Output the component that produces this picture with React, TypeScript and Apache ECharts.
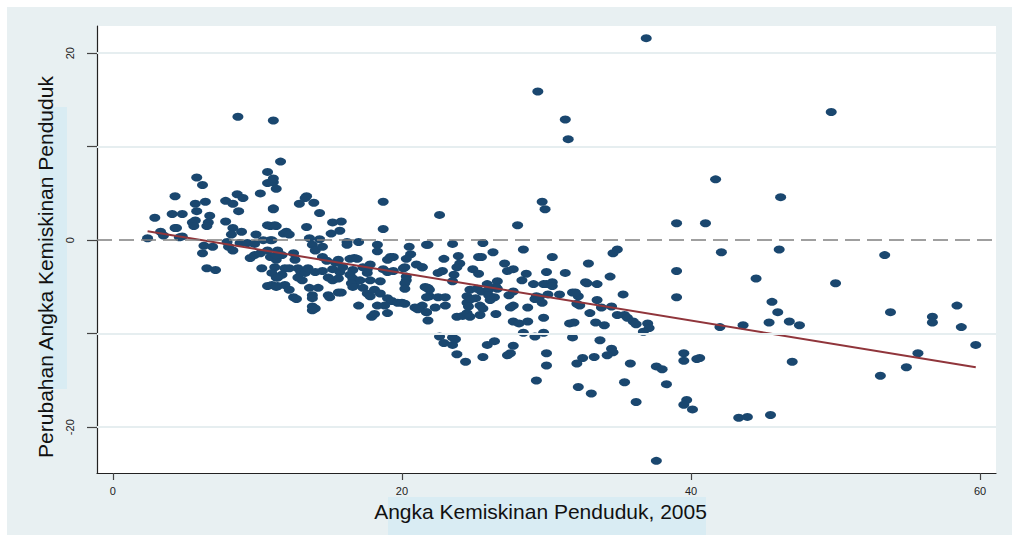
import React, { useEffect, useRef } from "react";
import * as echarts from "echarts";

// Poverty rate 2005 (x) and change in poverty rate (y)
const povertyRate2005: number[] = [
  36.9, 29.4, 31.3, 31.5, 49.7, 41.7, 8.65, 11.1, 11.6, 5.8,
  46.2, 41.0, 42.1, 46.1, 44.5, 50.0, 53.4, 45.6, 46.0, 46.8, 47.5, 42.0, 43.6, 45.4, 53.8, 56.7, 56.7, 58.4, 58.7, 59.7, 55.7, 54.9, 53.1, 47.0, 40.6, 43.3, 43.9, 45.5, 37.6, 39.0,
  31.3, 32.9, 34.6, 34.9, 32.7, 32.8, 33.5, 34.4, 39.0, 39.0, 30.9, 31.8, 32.2, 32.3, 33.5, 33.8, 34.5, 33.0, 35.3, 34.9, 35.4, 35.6, 36.0, 36.2, 37.0, 37.1, 36.7, 31.6, 31.9, 33.4, 34.0, 31.8, 33.7, 34.5, 34.6, 34.2, 32.5, 32.1, 33.3, 35.8, 37.6, 38.0, 39.5, 39.5, 40.4, 32.2, 33.1, 35.4, 38.3, 36.2, 39.7, 39.5, 40.1,
  22.6, 29.7, 29.9, 28.0, 21.8, 23.5, 25.6, 26.3, 28.4, 30.4, 23.9, 24.0, 23.8, 22.9, 21.4, 22.5, 22.8, 23.6, 25.3, 25.5, 24.9, 25.3, 27.1, 27.3, 27.7, 28.6, 28.3, 30.0, 29.1, 29.8, 30.0, 30.4, 30.4, 26.6, 25.9, 26.5, 21.6, 21.8, 21.9, 23.5, 24.7, 25.2, 25.5, 26.0, 26.6, 27.7, 32.0, 21.9, 22.5, 23.0, 24.5, 25.1, 26.0, 26.4, 27.4, 29.3, 29.2, 29.5, 30.1, 32.1, 21.4, 22.3, 23.0, 24.5, 24.6, 24.8, 25.4, 25.6, 26.1, 27.7, 27.5, 28.7, 29.7, 21.7, 23.8, 24.2, 24.5, 24.7, 25.4, 26.5, 27.7, 28.1, 28.7, 29.8, 21.8, 28.4, 29.2, 29.8, 22.6, 22.9, 23.5, 23.5, 23.7, 25.9, 26.4, 27.7, 27.5, 27.3, 30.0, 23.8, 25.6, 24.4, 30.0, 29.3,
  11.1, 11.3, 11.1, 13.4, 13.3, 12.9, 13.9, 14.3, 18.7, 18.7, 15.2, 15.8, 15.1, 15.7, 13.4, 11.2, 11.8, 12.0, 12.2, 11.0, 13.6, 14.3, 13.8, 14.0, 14.5, 16.2, 16.2, 17.0, 18.3, 18.3, 20.5, 20.6, 21.7, 11.4, 11.1, 11.7, 11.3, 12.5, 12.6, 14.5, 14.8, 15.4, 15.6, 16.4, 16.7, 16.9, 17.8, 17.3, 19.0, 19.2, 19.4, 20.3, 20.2, 21.0, 21.4, 11.2, 11.9, 12.2, 12.8, 13.0, 13.3, 13.5, 14.0, 14.5, 15.2, 15.7, 15.9, 16.6, 16.4, 17.6, 17.6, 18.7, 19.0, 19.4, 20.1, 20.3, 11.3, 11.7, 12.8, 13.1, 14.9, 15.2, 15.6, 16.6, 17.1, 16.7, 17.8, 18.5, 20.3, 20.2, 11.0, 11.4, 11.9, 12.2, 12.5, 12.7, 13.6, 14.2, 13.8, 13.8, 14.9, 15.0, 15.6, 15.8, 16.5, 16.6, 17.3, 17.6, 17.8, 18.1, 18.5, 19.0, 19.3, 19.7, 20.0, 20.2, 18.8, 19.0, 18.3, 17.9, 18.1, 17.0, 20.9, 21.1, 21.7, 20.2, 21.7, 21.7, 13.8, 14.0, 13.8,
  4.3, 6.2, 2.9, 4.1, 4.8, 5.7, 6.4, 5.8, 6.7, 5.5, 5.7, 5.6, 6.6, 6.5, 4.3, 3.3, 3.5, 2.4, 4.6, 7.8, 8.3, 8.6, 9.0, 8.7, 7.8, 8.3, 8.2, 8.9, 9.9, 10.2, 10.7, 10.7, 11.1, 11.1, 10.7, 10.9, 11.3, 6.3, 6.2, 6.5, 7.1, 6.9, 7.9, 8.0, 8.3, 8.8, 9.3, 9.8, 9.5, 9.8, 10.2, 10.7, 10.3, 10.9, 11.3, 11.0, 11.4, 10.7, 11.3, 10.4, 10.9, 4.8, 4.4,
];

const povertyChange: number[] = [
  21.6, 15.9, 12.9, 10.8, 13.7, 6.5, 13.2, 12.8, 8.4, 6.7,
  4.6, 1.8, -1.3, -1.0, -4.1, -4.6, -1.6, -6.6, -7.7, -8.7, -9.1, -9.3, -9.1, -8.8, -7.7, -8.2, -8.8, -7.0, -9.3, -11.2, -12.1, -13.6, -14.5, -13.0, -12.6, -19.0, -18.9, -18.7, -23.6, 1.8,
  -3.5, -2.5, -1.4, -1.0, -4.5, -4.6, -4.7, -3.9, -3.3, -6.1, -5.8, -5.6, -6.0, -7.0, -6.4, -7.2, -7.1, -7.8, -5.8, -8.0, -8.0, -8.3, -8.7, -9.0, -8.9, -9.4, -9.8, -8.9, -8.8, -8.8, -9.1, -10.4, -10.7, -11.6, -12.0, -12.3, -12.6, -13.2, -12.5, -13.2, -13.5, -13.8, -12.1, -12.9, -12.7, -15.7, -16.4, -15.2, -15.4, -17.3, -17.1, -17.6, -18.1,
  2.7, 4.1, 3.3, 1.6, -0.5, -0.4, -0.3, -1.3, -1.0, -1.8, -1.7, -2.5, -2.9, -2.0, -2.9, -3.5, -3.3, -3.7, -1.8, -1.8, -3.1, -3.6, -2.5, -3.3, -3.1, -3.6, -4.3, -3.4, -4.7, -4.7, -4.7, -4.5, -4.9, -4.4, -4.7, -5.0, -5.0, -5.1, -5.3, -4.4, -5.3, -5.2, -5.5, -5.3, -5.2, -5.5, -5.6, -6.0, -6.1, -6.1, -6.0, -6.2, -5.9, -6.1, -5.9, -6.0, -6.3, -6.1, -5.8, -6.8, -7.0, -7.2, -7.0, -6.7, -7.1, -6.3, -7.0, -7.3, -6.4, -7.0, -7.2, -7.2, -6.7, -7.7, -8.2, -8.1, -7.8, -8.2, -8.0, -7.9, -8.7, -8.9, -8.7, -8.3, -8.6, -9.9, -10.3, -9.9, -10.3, -11.0, -11.2, -10.4, -10.6, -11.2, -10.8, -11.3, -12.1, -12.3, -12.1, -12.2, -12.5, -13.0, -13.4, -15.0,
  6.2, 5.5, 3.4, 4.7, 4.5, 3.9, 4.0, 2.9, 4.1, 1.2, 1.9, 2.0, 0.7, 1.0, 1.4, 1.6, 0.7, 0.9, 0.6, 0.0, 0.2, 0.1, -0.5, -1.1, -0.7, -0.2, -0.5, -0.2, -0.5, -1.2, -0.7, -1.5, -0.5, -1.1, -1.8, -1.6, -2.1, -1.4, -2.1, -1.8, -2.2, -2.4, -2.1, -2.0, -1.9, -2.0, -2.6, -2.9, -2.1, -1.8, -1.8, -2.0, -2.9, -2.6, -2.9, -2.9, -3.0, -3.0, -3.0, -3.4, -3.5, -3.0, -3.4, -3.3, -3.1, -3.4, -2.9, -3.2, -3.7, -3.1, -3.5, -3.1, -3.4, -3.3, -3.0, -3.9, -4.0, -3.7, -4.0, -4.3, -4.0, -4.3, -4.1, -4.1, -4.3, -4.7, -4.3, -4.4, -4.3, -4.6, -4.8, -4.9, -4.8, -5.3, -6.1, -6.3, -5.1, -5.1, -5.9, -6.2, -5.9, -6.1, -5.6, -5.6, -4.6, -5.0, -5.1, -5.7, -6.0, -5.3, -5.7, -6.2, -6.5, -6.7, -6.7, -6.8, -7.0, -7.8, -7.0, -8.2, -7.9, -7.0, -7.2, -7.4, -7.7, -5.2, -5.1, -6.1, -7.1, -7.3, -7.5,
  4.7, 5.9, 2.4, 2.8, 2.8, 3.9, 4.1, 3.1, 2.6, 1.9, 2.1, 1.5, 1.9, 1.5, 1.3, 0.9, 0.5, 0.2, 0.3, 4.2, 3.9, 4.9, 4.5, 3.1, 2.0, 1.3, 0.6, 0.9, 0.6, 5.0, 7.3, 6.1, 6.6, 3.3, 1.6, 1.5, 1.5, -0.6, -1.4, -3.0, -3.2, -0.7, -0.2, -0.7, -1.1, -0.3, -0.3, -0.4, -1.9, -1.6, -1.4, -1.1, -3.0, -1.8, -1.6, -3.5, -4.0, -4.9, -5.0, 0.0, 0.0, 0.4, 1.3,
];

// Fitted regression line endpoints
const fitX: number[] = [2.4, 59.7];
const fitY: number[] = [0.96, -13.6];

const xTicks: number[] = [0, 20, 40, 60];
const yTicks: number[] = [-20, -10, 0, 10, 20];
const yLabelTicks: number[] = [-20, 0, 20];
const yGridLines: number[] = [20, 10, -10, -20];

const xTitle = "Angka Kemiskinan Penduduk, 2005";
const yTitle = "Perubahan Angka Kemiskinan Penduduk";

export default function App() {
  const ref = useRef<HTMLDivElement>(null);
  useEffect(() => {
    if (!ref.current) return;
    const chart = echarts.init(ref.current, undefined, { renderer: "svg" });
    const n = Math.min(povertyRate2005.length, povertyChange.length);
    const points = [];
    for (let i = 0; i < n; i++) points.push([povertyRate2005[i], povertyChange[i]]);
    const fit = fitX.map((x, i) => [x, fitY[i]]);
    const font = "'Liberation Sans', Arial, Helvetica, sans-serif";
    chart.setOption({
      animation: false,
      backgroundColor: "#e8f0f2",
      textStyle: { fontFamily: font },
      graphic: [
        { type: "rect", left: 33, top: 100, shape: { width: 27, height: 282 }, style: { fill: "#d9ecf3" }, z: -1, silent: true },
        { type: "rect", left: 381, top: 490, shape: { width: 318, height: 38 }, style: { fill: "#d9ecf3" }, z: -1, silent: true },
      ],
      grid: {
        left: 90,
        top: 19,
        right: 16,
        bottom: 62,
        show: true,
        backgroundColor: "#ffffff",
        borderWidth: 0,
      },
      xAxis: {
        type: "value",
        min: -1.1,
        max: 61.1,
        name: xTitle,
        nameLocation: "middle",
        nameGap: 27,
        nameTextStyle: { fontSize: 21, color: "#111", fontFamily: font, padding: [0, 12, 0, 0] },
        axisLine: { show: true, onZero: false, lineStyle: { color: "#222", width: 1.2 } },
        axisTick: { show: true, customValues: xTicks, length: 7, lineStyle: { color: "#444", width: 1.2 } },
        axisLabel: { customValues: xTicks, margin: 12, fontSize: 11, color: "#222", fontFamily: font },
        splitLine: { show: false },
      },
      yAxis: {
        type: "value",
        min: -24.9,
        max: 22.9,
        name: yTitle,
        nameLocation: "middle",
        nameGap: 28,
        nameRotate: 90,
        nameTextStyle: { fontSize: 21, color: "#111", fontFamily: font, padding: [0, 35, 0, 0] },
        axisLine: { show: true, onZero: false, lineStyle: { color: "#222", width: 1.2 } },
        axisTick: { show: true, customValues: yTicks, length: 10, lineStyle: { color: "#444", width: 1.2 } },
        axisLabel: { customValues: yLabelTicks, rotate: 90, margin: 22, fontSize: 11, color: "#222", fontFamily: font },
        splitLine: { show: false },
      },
      series: [
        {
          type: "line",
          name: "grid",
          data: fit,
          symbol: "none",
          lineStyle: { opacity: 0 },
          silent: true,
          z: 1,
          markLine: {
            silent: true,
            symbol: "none",
            label: { show: false },
            lineStyle: { color: "#e6eef0", width: 2, type: "solid" },
            data: [
              ...yGridLines.map((v) => ({ yAxis: v })),
              { yAxis: 0, lineStyle: { color: "#808080", width: 1.5, type: [15, 7] } },
            ],
          },
        },
        {
          type: "scatter",
          name: "data",
          data: points,
          symbol: "circle",
          symbolSize: [11, 8],
          itemStyle: { color: "#1a476f", opacity: 1 },
          z: 2,
        },
        {
          type: "line",
          name: "fit",
          data: fit,
          symbol: "none",
          lineStyle: { color: "#90353b", width: 2 },
          z: 3,
        },
      ],
    });
    return () => chart.dispose();
  }, []);
  return <div ref={ref} style={{ position: "absolute", left: 7, top: 7, width: 1005, height: 528 }} />;
}
